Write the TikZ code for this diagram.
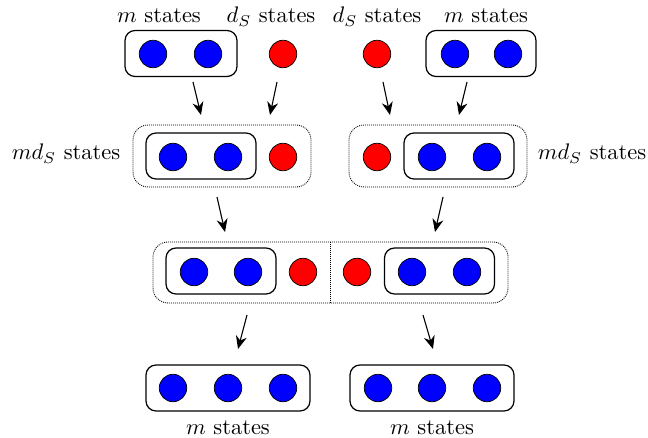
\documentclass[tikz,border=0pt]{standalone}
\usepackage{graphicx}
\usetikzlibrary{arrows.meta}
\definecolor{sblue}{RGB}{0,0,255}
\definecolor{sred}{RGB}{255,0,0}
\newcommand{\bigtxt}[1]{\scalebox{2.25}{#1}}
\tikzset{
  bst/.style={circle,draw=black,line width=0.7pt,fill=sblue,minimum size=27.5pt,inner sep=0pt},
  rst/.style={circle,draw=black,line width=0.7pt,fill=sred,minimum size=27.5pt,inner sep=0pt},
  sbox/.style={draw=black,line width=1.2pt,rounded corners=10pt,minimum height=46pt,inner sep=0pt},
  dbox/.style={draw=black,line width=0.9pt,dash pattern=on 0.9pt off 1.1pt,rounded corners=15pt,minimum height=62pt,inner sep=0pt},
  lbl/.style={anchor=base,inner sep=0pt},
  arr/.style={-{Stealth[length=13pt,width=11pt]},line width=1.1pt}
}
\begin{document}
\begin{tikzpicture}[x=1pt,y=-1pt]
\useasboundingbox (0,0) rectangle (648,438);
% row 1
\node[sbox,minimum width=112pt] (b1l) at (181,53.5) {};
\node[bst] (c1a) at (153,54) {};
\node[bst] (c1b) at (208,54) {};
\node[rst] (c1c) at (283,54) {};
\node[rst] (c1d) at (377,54) {};
\node[sbox,minimum width=110pt] (b1r) at (481,53.5) {};
\node[bst] (c1e) at (455,54) {};
\node[bst] (c1f) at (508,54) {};
\node[lbl] (t1) at (159,23) {\bigtxt{$m$ states}};
\node[lbl] (t2) at (271,23) {\bigtxt{$d_S$ states}};
\node[lbl] (t3) at (377,23) {\bigtxt{$d_S$ states}};
\node[lbl] (t4) at (486,23) {\bigtxt{$m$ states}};
% row 2
\node[dbox,minimum width=178pt] (d2l) at (222,156) {};
\node[sbox,minimum width=110pt] (b2l) at (201,156) {};
\node[bst] (c2a) at (173,157) {};
\node[bst] (c2b) at (228,157) {};
\node[rst] (c2c) at (283,157) {};
\node[dbox,minimum width=178pt] (d2r) at (438,156) {};
\node[sbox,minimum width=110pt] (b2r) at (459,156) {};
\node[rst] (c2d) at (377,157) {};
\node[bst] (c2e) at (432,157) {};
\node[bst] (c2f) at (487,157) {};
\node[lbl] (t5) at (66,160) {\bigtxt{$md_S$ states}};
\node[lbl] (t6) at (592,160) {\bigtxt{$md_S$ states}};
% row 3
\node[dbox,minimum width=355pt,minimum height=61pt] (d3) at (330.5,272.5) {};
\draw[line width=0.9pt,dash pattern=on 0.9pt off 1.1pt] (d3.north) -- (d3.south);
\node[sbox,minimum width=110pt] (b3l) at (221,271) {};
\node[bst] (c3a) at (194,272) {};
\node[bst] (c3b) at (248,272) {};
\node[rst] (c3c) at (303,272) {};
\node[rst] (c3d) at (357,272) {};
\node[sbox,minimum width=110pt] (b3r) at (439.5,271) {};
\node[bst] (c3e) at (412,272) {};
\node[bst] (c3f) at (467,272) {};
% row 4
\node[sbox,minimum width=164pt] (b4l) at (228,388) {};
\node[bst] (c4a) at (173,388) {};
\node[bst] (c4b) at (228,388) {};
\node[bst] (c4c) at (283,388) {};
\node[sbox,minimum width=164pt] (b4r) at (432,388) {};
\node[bst] (c4d) at (378,388) {};
\node[bst] (c4e) at (432,388) {};
\node[bst] (c4f) at (487,388) {};
\node[lbl] (t7) at (228,434) {\bigtxt{$m$ states}};
\node[lbl] (t8) at (432,434) {\bigtxt{$m$ states}};
% arrows
\coordinate (a1s) at (193,82); \coordinate (a1e) at (201,115);
\coordinate (a2s) at (277,82); \coordinate (a2e) at (270,115);
\coordinate (a3s) at (383,82); \coordinate (a3e) at (390,115);
\coordinate (a4s) at (467,82); \coordinate (a4e) at (459,115);
\coordinate (a5s) at (217,197); \coordinate (a5e) at (225,232);
\coordinate (a6s) at (443,197); \coordinate (a6e) at (435,232);
\coordinate (a7s) at (247,315); \coordinate (a7e) at (238,349);
\coordinate (a8s) at (423,315); \coordinate (a8e) at (433,349);
\draw[arr] (a1s) -- (a1e);
\draw[arr] (a2s) -- (a2e);
\draw[arr] (a3s) -- (a3e);
\draw[arr] (a4s) -- (a4e);
\draw[arr] (a5s) -- (a5e);
\draw[arr] (a6s) -- (a6e);
\draw[arr] (a7s) -- (a7e);
\draw[arr] (a8s) -- (a8e);
\end{tikzpicture}
\end{document}
